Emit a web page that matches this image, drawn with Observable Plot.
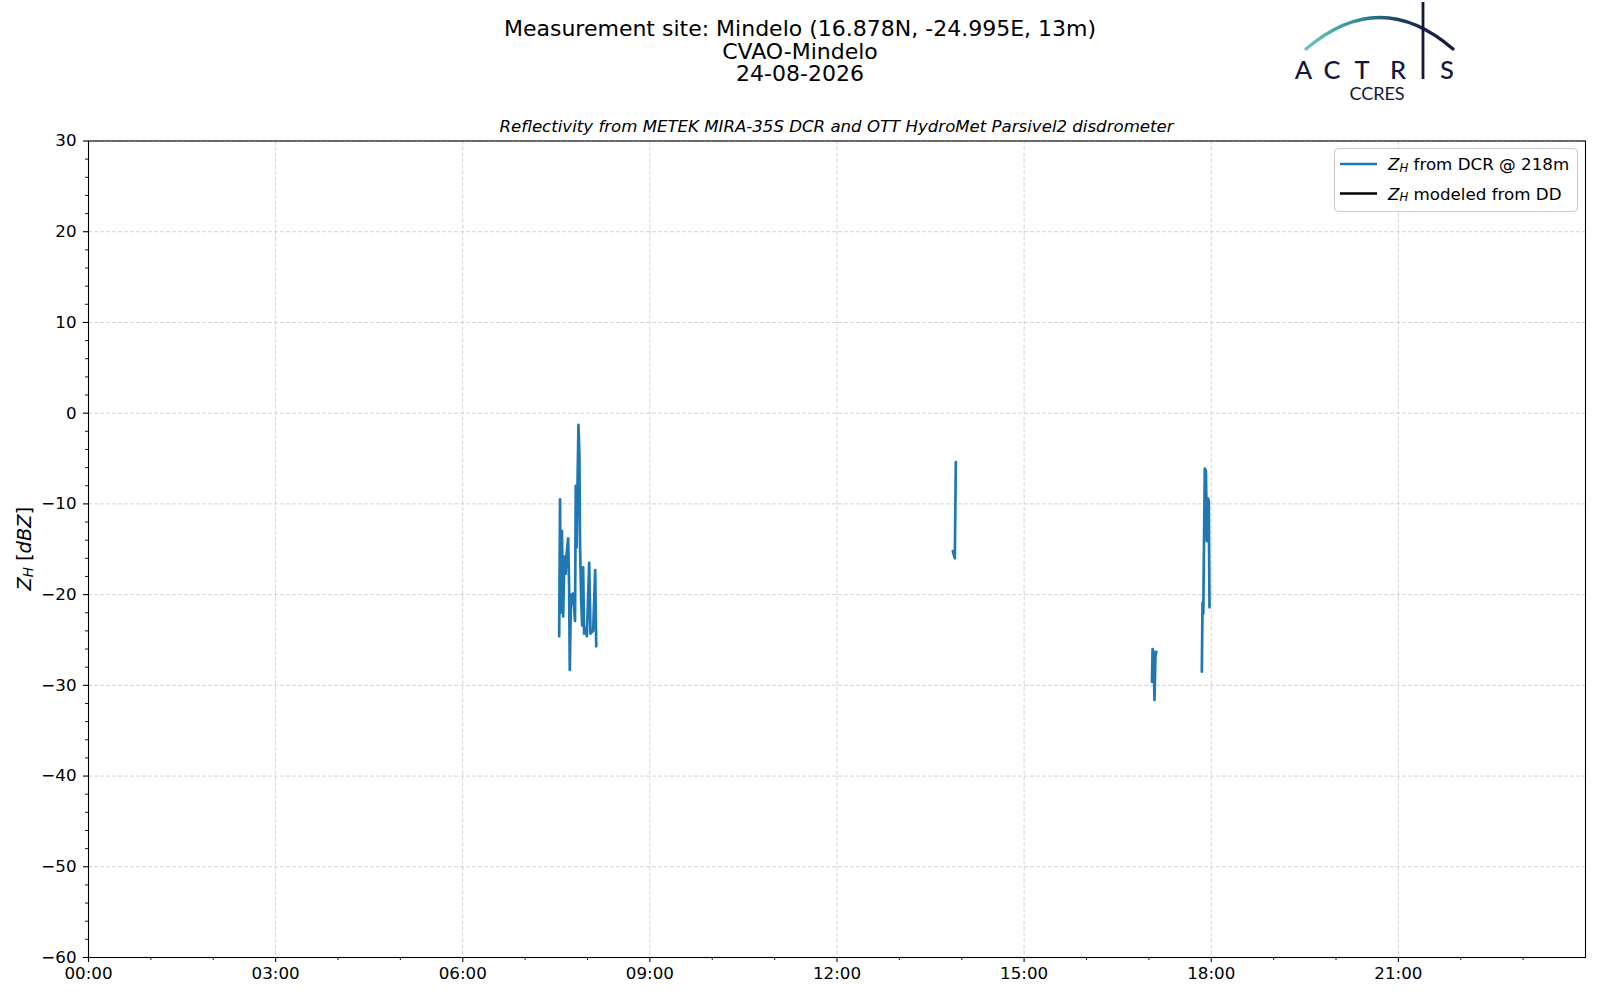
<!DOCTYPE html>
<html>
<head>
<meta charset="utf-8">
<script src="https://cdn.jsdelivr.net/npm/d3@7"></script>
<script src="https://cdn.jsdelivr.net/npm/@observablehq/plot@0.6"></script>
<style>
  html, body { margin: 0; padding: 0; background: white; }
  #wrap { position: relative; width: 1600px; height: 1000px; font-family: "DejaVu Sans", sans-serif; color: black; overflow: hidden; }
  #header { position: relative; width: 1600px; height: 110px; }
  .abs { position: absolute; }
  #title { left: 0; width: 1600px; top: 18px; text-align: center; font-size: 22px; line-height: 22.6px; }
  #subtitle { left: 88px; width: 1497px; top: 117px; text-align: center; font-size: 16.6px; font-style: italic; line-height: 20px; }
</style>
</head>
<body>
<div id="wrap">
  <div id="header">
    <div id="title" class="abs"></div>
    <svg id="logo" class="abs" style="left:0;top:0" width="1600" height="110"></svg>
  </div>
  <div id="chart"></div>
  <div id="subtitle" class="abs"></div>
  <svg id="legend" class="abs" style="left:1334px;top:148px" width="246" height="66"></svg>
</div>
<script>
// ---------- data ----------
const titleLines = ["Measurement site: Mindelo (16.878N, -24.995E, 13m)", "CVAO-Mindelo", "24-08-2026"];
const subtitleText = "Reflectivity from METEK MIRA-35S DCR and OTT HydroMet Parsivel2 disdrometer";
const legendLabels = [" from DCR @ 218m", " modeled from DD"];

const xTickHours = [0, 3, 6, 9, 12, 15, 18, 21];
const xTickLabels = ["00:00", "03:00", "06:00", "09:00", "12:00", "15:00", "18:00", "21:00"];
const yTickValues = [-60, -50, -40, -30, -20, -10, 0, 10, 20, 30];

// Z_H from DCR @ 218m (hours of day, dBZ); segment separates the gaps
const dcrHours = [
  7.546, 7.560, 7.570, 7.590, 7.610, 7.630, 7.650, 7.665, 7.690, 7.705, 7.716, 7.735, 7.750, 7.765, 7.785, 7.800,
  7.812, 7.825, 7.840, 7.855, 7.870, 7.880, 7.899, 7.915, 7.930, 7.945, 7.963, 7.990, 8.027, 8.048, 8.091, 8.123, 8.140,
  13.857, 13.872, 13.889, 13.905,
  17.050, 17.060, 17.075, 17.090, 17.105, 17.120,
  17.849, 17.860, 17.872, 17.897, 17.915, 17.930, 17.945, 17.960, 17.972
];
const dcrDbz = [
  -24.6, -9.5, -22.0, -13.0, -22.4, -15.8, -17.7, -15.5, -13.8, -19.0, -28.3, -20.0, -21.0, -19.9, -21.5, -22.9,
  -8.0, -14.8, -8.0, -1.3, -4.5, -14.4, -20.7, -23.4, -17.0, -24.3, -23.7, -24.6, -16.5, -24.3, -24.0, -17.3, -25.7,
  -15.2, -15.6, -16.0, -5.4,
  -29.6, -26.0, -26.3, -31.6, -26.8, -26.3,
  -28.5, -20.9, -22.1, -6.1, -6.4, -14.1, -9.4, -9.6, -21.4
];
const dcrSegment = [
  1,1,1,1,1,1,1,1,1,1,1,1,1,1,1,1,
  1,1,1,1,1,1,1,1,1,1,1,1,1,1,1,1,1,
  2,2,2,2,
  3,3,3,3,3,3,
  4,4,4,4,4,4,4,4,4
];
// Z_H modeled from DD: no values on this day
const ddHours = [];
const ddDbz = [];

// ---------- build ----------
const dcrRows = dcrHours.map((h, i) => ({hour: h, dbz: dcrDbz[i], segment: dcrSegment[i]}));
const ddRows = ddHours.map((h, i) => ({hour: h, dbz: ddDbz[i]}));
const xMinor = d3.range(0, 25, 1).filter(h => h % 3 !== 0);
const yMinor = d3.range(-60, 31, 2).filter(v => v % 10 !== 0);

document.getElementById("title").innerHTML = titleLines.map(t => `<div>${t}</div>`).join("");
document.getElementById("subtitle").textContent = subtitleText;

const gridStyle = {stroke: "#cfcfcf", strokeWidth: 0.9, strokeDasharray: "4,2", strokeOpacity: 1};

const chart = Plot.plot({
  width: 1600,
  height: 890,
  marginLeft: 88,
  marginRight: 15,
  marginTop: 30.5,
  marginBottom: 43,
  style: {fontFamily: "DejaVu Sans", fontSize: "16.7px", color: "black", background: "white", overflow: "visible"},
  x: {domain: [0, 24]},
  y: {domain: [-60, 30]},
  marks: [
    Plot.gridX(xTickHours, gridStyle),
    Plot.gridY(yTickValues, gridStyle),
    Plot.axisX(xTickHours, {tickSize: 5, tickPadding: 5, strokeWidth: 1.1, tickFormat: d => xTickLabels[xTickHours.indexOf(d)], label: null}),
    Plot.axisX(xMinor, {tickSize: 3, strokeWidth: 0.9, tickFormat: () => "", label: null}),
    Plot.axisY(yTickValues, {tickSize: 5, tickPadding: 7, strokeWidth: 1.1, label: null}),
    Plot.axisY(yMinor, {tickSize: 3, strokeWidth: 0.9, tickFormat: () => "", label: null}),
    Plot.line(ddRows, {x: "hour", y: "dbz", stroke: "black", strokeWidth: 2.6}),
    Plot.line(dcrRows, {x: "hour", y: "dbz", z: "segment", stroke: "#1f77b4", strokeWidth: 2.7, strokeLinejoin: "round"}),
    Plot.frame({stroke: "black", strokeWidth: 1.1})
  ]
});
document.getElementById("chart").appendChild(chart);

// y label
const svg = d3.select(chart);
const yl = svg.append("text")
  .attr("transform", `translate(24, ${(30.5 + 847) / 2}) rotate(-90)`)
  .attr("text-anchor", "middle")
  .attr("dominant-baseline", "central")
  .attr("font-family", "DejaVu Sans")
  .attr("font-size", 19.4)
  .attr("fill", "black");
yl.append("tspan").attr("font-style", "italic").text("Z");
yl.append("tspan").attr("font-style", "italic").attr("font-size", 13.5).attr("dy", 4).text("H");
yl.append("tspan").attr("dy", -4).text(" [");
yl.append("tspan").attr("font-style", "italic").text("dBZ");
yl.append("tspan").text("]");

// legend
const lg = d3.select("#legend");
lg.append("rect").attr("x", 0.5).attr("y", 0.5).attr("width", 243).attr("height", 63).attr("rx", 4)
  .attr("fill", "white").attr("fill-opacity", 0.85).attr("stroke", "#cccccc").attr("stroke-width", 1);
const legendColors = ["#1f77b4", "black"];
legendLabels.forEach((lab, i) => {
  const y = 16 + i * 29.5;
  lg.append("line").attr("x1", 6).attr("x2", 43).attr("y1", y).attr("y2", y).attr("stroke", legendColors[i]).attr("stroke-width", 2.7);
  const t = lg.append("text").attr("x", 54).attr("y", y).attr("dominant-baseline", "central")
    .attr("font-family", "DejaVu Sans").attr("font-size", 16.7).attr("fill", "black");
  t.append("tspan").attr("font-style", "italic").text("Z");
  t.append("tspan").attr("font-style", "italic").attr("font-size", 11.7).attr("dy", 3.5).text("H");
  t.append("tspan").attr("dy", -3.5).text(lab);
});

// ACTRIS logo
const logo = d3.select("#logo");
const defs = logo.append("defs");
const grad = defs.append("linearGradient").attr("id", "arcgrad").attr("gradientUnits", "userSpaceOnUse")
  .attr("x1", 1306).attr("y1", 0).attr("x2", 1455).attr("y2", 0);
grad.append("stop").attr("offset", "0%").attr("stop-color", "#6cc4bf");
grad.append("stop").attr("offset", "35%").attr("stop-color", "#2f8f98");
grad.append("stop").attr("offset", "65%").attr("stop-color", "#1c3a5a");
grad.append("stop").attr("offset", "100%").attr("stop-color", "#14163a");
logo.append("path").attr("d", "M1306,49 Q1380,-14 1453,49").attr("fill", "none")
  .attr("stroke", "url(#arcgrad)").attr("stroke-width", 3.2).attr("stroke-linecap", "round");
logo.append("line").attr("x1", 1423).attr("x2", 1423).attr("y1", 2).attr("y2", 79)
  .attr("stroke", "#14163a").attr("stroke-width", 2.8);
const letters = [["A", 1303.5], ["C", 1332], ["T", 1362], ["R", 1398], ["S", 1447]];
letters.forEach(([ch, x]) => {
  logo.append("text").attr("x", x).attr("y", 78.5).attr("text-anchor", "middle")
    .attr("font-family", "Lato").attr("font-weight", 500).attr("font-size", 25.5).attr("fill", "#14163a").text(ch);
});
logo.append("text").attr("x", 1377).attr("y", 99.5).attr("text-anchor", "middle")
  .attr("font-family", "Lato").attr("font-size", 18).attr("fill", "#14163a").text("CCRES");
</script>
</body>
</html>
